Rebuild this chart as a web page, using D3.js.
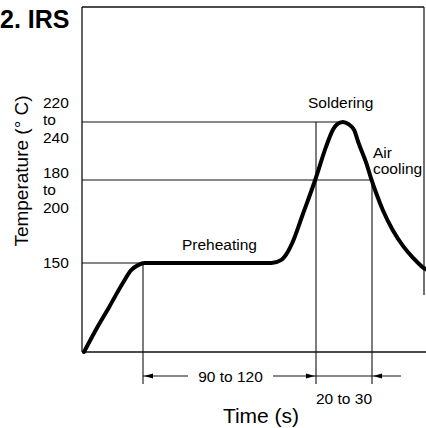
<!DOCTYPE html>
<html>
<head>
<meta charset="utf-8">
<script src="https://cdn.jsdelivr.net/npm/d3@7"></script>
<style>
  body { margin: 0; background: #fff; }
  svg { display: block; font-family: "Liberation Sans", Arial, sans-serif; }
  .small { font-size: 15.5px; }
</style>
</head>
<body>
<div id="chart"></div>
<script>
// reflow (IRS) profile, schematic
const timeS = [0, 12, 25.5, 39.5, 48, 55, 61, 138, 144, 148, 150.5, 157, 164.5, 169.5, 172.5, 174.5, 177, 179.5, 182, 184, 187.5, 189.5, 192, 195, 199.5, 204.5, 209, 213.5, 215];
const tempC = [25, 56, 88, 122, 140, 147, 150, 150, 151.5, 155.5, 159.5, 173.5, 190, 213, 224.5, 228.5, 230, 228.5, 224.5, 215.5, 201.5, 191.5, 183.5, 175.5, 166, 158, 152.5, 144, 141];

// temperature levels shown on the y axis
const levelTemps = [230, 190, 150];
const levelLabels = [['220', 'to', '240'], ['180', 'to', '200'], ['150']];
const levelUntil = [177, 190, 60];   // time where each guide line stops

// phase boundaries (s) and their dimension labels
const phaseTimes = [60, 165, 190];
const phaseLabels = ['90 to 120', '20 to 30'];

const width = 426, height = 428;
const frame = {left: 82, top: 7, right: 424, bottom: 352};

const svg = d3.select('#chart').append('svg')
    .attr('width', width)
    .attr('height', height);

// schematic axes: not to scale, so piecewise
const x = d3.scaleLinear()
    .domain([0, 60, 165, 190, 215])
    .range([84, 143, 316, 372, 426]);
const y = d3.scaleLinear()
    .domain([25, 150, 190, 230, 330])
    .range([352, 263, 180, 122, 7]);

// frame
const g = svg.append('g').attr('stroke', '#111').attr('fill', 'none');
g.append('line').attr('x1', frame.left).attr('x2', frame.left)
    .attr('y1', frame.top).attr('y2', frame.bottom).attr('stroke-width', 1.3);
g.append('line').attr('x1', frame.left).attr('x2', frame.right)
    .attr('y1', frame.top).attr('y2', frame.top).attr('stroke-width', 1.3);
g.append('line').attr('x1', frame.right).attr('x2', frame.right)
    .attr('y1', frame.top).attr('y2', 295).attr('stroke-width', 1.2);
g.append('line').attr('x1', frame.left).attr('x2', width)
    .attr('y1', frame.bottom).attr('y2', frame.bottom).attr('stroke-width', 1.3);

// horizontal guide lines
g.selectAll('line.level')
    .data(levelTemps)
    .join('line')
    .classed('level', true)
    .attr('x1', frame.left)
    .attr('x2', (d, i) => x(levelUntil[i]))
    .attr('y1', d => y(d))
    .attr('y2', d => y(d))
    .attr('stroke-width', 1.1);

// vertical lines at phase boundaries
const phaseTemp = [150, 230, 190];
const dimY = 376;
g.selectAll('line.phase')
    .data(phaseTimes)
    .join('line')
    .classed('phase', true)
    .attr('x1', d => x(d))
    .attr('x2', d => x(d))
    .attr('y1', (d, i) => y(phaseTemp[i]))
    .attr('y2', 384)
    .attr('stroke-width', 1.1);

// profile curve
const line = d3.line()
    .x((d, i) => x(timeS[i]))
    .y(d => y(d))
    .curve(d3.curveMonotoneX);
svg.append('path')
    .datum(tempC)
    .attr('d', line)
    .attr('fill', 'none')
    .attr('stroke', '#000')
    .attr('stroke-width', 4)
    .attr('stroke-linejoin', 'round')
    .attr('stroke-linecap', 'round');

// y tick labels
const labelShift = [-14.5, -2.5, 4.5];
const yl = svg.append('g').attr('class', 'small');
levelLabels.forEach((lines, i) => {
    const t = yl.append('text')
        .attr('x', 43)
        .attr('y', y(levelTemps[i]) + labelShift[i]);
    t.selectAll('tspan')
        .data(lines)
        .join('tspan')
        .attr('x', 43)
        .attr('dy', (d, j) => j ? 17.5 : 0)
        .text(d => d);
});

// dimension lines
function arrow(xTip, dir){
    // dir: -1 points left, +1 points right
    svg.append('path')
        .attr('d', `M${xTip},${dimY} L${xTip - dir * 9},${dimY - 2.5} L${xTip - dir * 9},${dimY + 2.5} Z`)
        .attr('fill', '#000');
}
const x0 = x(phaseTimes[0]), x1 = x(phaseTimes[1]), x2 = x(phaseTimes[2]);
const dim = svg.append('g').attr('stroke', '#111').attr('stroke-width', 1);
dim.append('line').attr('x1', x0).attr('x2', 188).attr('y1', dimY).attr('y2', dimY);
dim.append('line').attr('x1', 273).attr('x2', x1).attr('y1', dimY).attr('y2', dimY);
dim.append('line').attr('x1', x1).attr('x2', x2).attr('y1', dimY).attr('y2', dimY);
dim.append('line').attr('x1', x2).attr('x2', 401).attr('y1', dimY).attr('y2', dimY);
arrow(x0 + 1, -1);
arrow(x1 - 1, 1);
arrow(x2 + 1, -1);

svg.append('text').attr('class', 'small')
    .attr('x', (188 + 273) / 2).attr('y', dimY + 5.5)
    .attr('text-anchor', 'middle')
    .text(phaseLabels[0]);
svg.append('text').attr('class', 'small')
    .attr('x', (x1 + x2) / 2).attr('y', 404)
    .attr('text-anchor', 'middle')
    .text(phaseLabels[1]);

// annotations
svg.append('text').attr('class', 'small')
    .attr('x', 182).attr('y', 250).text('Preheating');
svg.append('text').attr('class', 'small')
    .attr('x', 308).attr('y', 108).text('Soldering');
svg.append('text').attr('class', 'small')
    .attr('x', 373).attr('y', 158).text('Air');
svg.append('text').attr('class', 'small')
    .attr('x', 373).attr('y', 174).text('cooling');

// axis titles
svg.append('text')
    .attr('x', 261).attr('y', 423)
    .attr('text-anchor', 'middle')
    .style('font-size', '21px')
    .text('Time (s)');
svg.append('text')
    .attr('transform', 'translate(28,171)rotate(-90)')
    .attr('text-anchor', 'middle')
    .style('font-size', '19px')
    .text('Temperature (° C)');

// title
svg.append('text')
    .attr('x', 0).attr('y', 28)
    .style('font-size', '25px')
    .style('font-weight', 'bold')
    .text('2. IRS');
</script>
</body>
</html>
